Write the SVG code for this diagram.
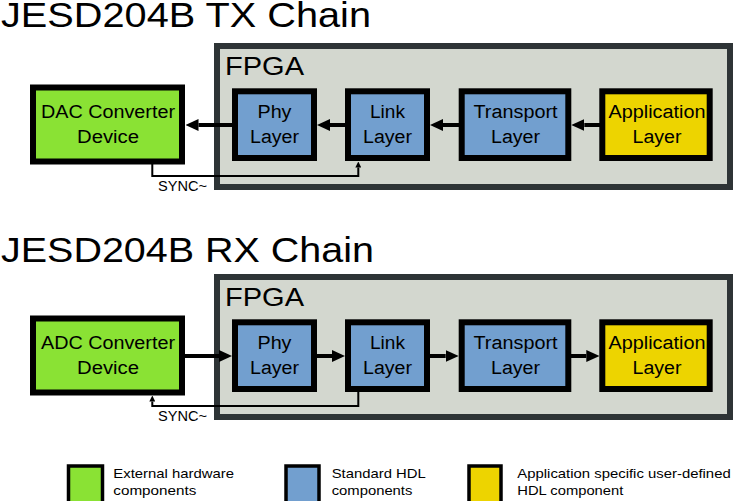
<svg xmlns="http://www.w3.org/2000/svg" width="733" height="501" viewBox="0 0 733 501">
<defs>
<style>
text{font-family:"Liberation Sans",Arial,sans-serif;fill:#000}
.title{font-size:35px}
.fpgal{font-size:26.5px}
.lbl{font-size:18px;text-anchor:middle}
.sync{font-size:14px}
.leg{font-size:13.5px}
.fpga{fill:#d3d7cf;stroke:#2e3436;stroke-width:6}
.box{stroke:#000;stroke-width:6}
.g{fill:#8ae234}.b{fill:#729fcf}.y{fill:#edd400}
.lbox{stroke:#000;stroke-width:3.5}
.thick{stroke:#000;stroke-width:4;fill:none;marker-end:url(#ah)}
.thin{stroke:#000;stroke-width:2;fill:none;marker-end:url(#sh)}
</style>
<marker id="ah" markerUnits="userSpaceOnUse" markerWidth="13" markerHeight="12" viewBox="0 0 13 12" refX="0" refY="6" orient="auto">
<path d="M0,0 L13,6 L0,12 Z" fill="#000"/>
</marker>
<marker id="sh" markerUnits="userSpaceOnUse" markerWidth="6" markerHeight="6" viewBox="0 0 6 6" refX="0" refY="3" orient="auto">
<path d="M0,0 L6,3 L0,6 Z" fill="#000"/>
</marker>
</defs>

<text class="title" x="1" y="27" textLength="370" lengthAdjust="spacingAndGlyphs">JESD204B TX Chain</text>
<text class="title" x="1" y="262" textLength="373" lengthAdjust="spacingAndGlyphs">JESD204B RX Chain</text>

<g id="tx-fpga">
<rect class="fpga" x="217" y="46" width="513" height="141"/>
<text class="fpgal" x="225" y="75" textLength="79" lengthAdjust="spacingAndGlyphs">FPGA</text>
</g>
<g id="rx-fpga">
<rect class="fpga" x="217" y="277" width="513" height="140"/>
<text class="fpgal" x="225" y="306" textLength="79" lengthAdjust="spacingAndGlyphs">FPGA</text>
</g>

<g id="connectors">
<line class="thick" x1="232" y1="125" x2="198.5" y2="125"/>
<line class="thick" x1="345" y1="125" x2="330" y2="125"/>
<line class="thick" x1="459" y1="125" x2="443" y2="125"/>
<line class="thick" x1="600" y1="125" x2="584.3" y2="125"/>
<polyline class="thin" points="152.3,163 152.3,176 358.3,176 358.3,167.5"/>
<text class="sync" x="158" y="191" textLength="49" lengthAdjust="spacingAndGlyphs">SYNC~</text>

<line class="thick" x1="185" y1="356" x2="219" y2="356"/>
<line class="thick" x1="317" y1="356" x2="332" y2="356"/>
<line class="thick" x1="430" y1="356" x2="445.7" y2="356"/>
<line class="thick" x1="571" y1="356" x2="586.3" y2="356"/>
<polyline class="thin" points="358.3,392 358.3,406 152.3,406 152.3,401.5"/>
<text class="sync" x="158" y="421" textLength="49" lengthAdjust="spacingAndGlyphs">SYNC~</text>
</g>

<g id="tx-dac">
<rect class="box g" x="33" y="87.5" width="149" height="74"/>
<text class="lbl" x="108" y="118" textLength="134" lengthAdjust="spacingAndGlyphs">DAC Converter</text>
<text class="lbl" x="108" y="143" textLength="62" lengthAdjust="spacingAndGlyphs">Device</text>
</g>
<g id="tx-phy">
<rect class="box b" x="235" y="91.3" width="79" height="66.7"/>
<text class="lbl" x="274.5" y="118" textLength="34" lengthAdjust="spacingAndGlyphs">Phy</text>
<text class="lbl" x="274.5" y="143" textLength="49" lengthAdjust="spacingAndGlyphs">Layer</text>
</g>
<g id="tx-link">
<rect class="box b" x="348" y="91.3" width="79" height="66.7"/>
<text class="lbl" x="387.5" y="118" textLength="35" lengthAdjust="spacingAndGlyphs">Link</text>
<text class="lbl" x="387.5" y="143" textLength="49" lengthAdjust="spacingAndGlyphs">Layer</text>
</g>
<g id="tx-transport">
<rect class="box b" x="461.7" y="91.3" width="106.6" height="66.7"/>
<text class="lbl" x="515.5" y="118" textLength="84" lengthAdjust="spacingAndGlyphs">Transport</text>
<text class="lbl" x="515.5" y="143" textLength="49" lengthAdjust="spacingAndGlyphs">Layer</text>
</g>
<g id="tx-app">
<rect class="box y" x="602.3" y="91.3" width="107.4" height="66.7"/>
<text class="lbl" x="657" y="118" textLength="97" lengthAdjust="spacingAndGlyphs">Application</text>
<text class="lbl" x="657" y="143" textLength="49" lengthAdjust="spacingAndGlyphs">Layer</text>
</g>

<g id="rx-adc">
<rect class="box g" x="33" y="318.5" width="149" height="74"/>
<text class="lbl" x="108" y="349" textLength="134" lengthAdjust="spacingAndGlyphs">ADC Converter</text>
<text class="lbl" x="108" y="374" textLength="62" lengthAdjust="spacingAndGlyphs">Device</text>
</g>
<g id="rx-phy">
<rect class="box b" x="235" y="322.3" width="79" height="66.7"/>
<text class="lbl" x="274.5" y="349" textLength="34" lengthAdjust="spacingAndGlyphs">Phy</text>
<text class="lbl" x="274.5" y="374" textLength="49" lengthAdjust="spacingAndGlyphs">Layer</text>
</g>
<g id="rx-link">
<rect class="box b" x="348" y="322.3" width="79" height="66.7"/>
<text class="lbl" x="387.5" y="349" textLength="35" lengthAdjust="spacingAndGlyphs">Link</text>
<text class="lbl" x="387.5" y="374" textLength="49" lengthAdjust="spacingAndGlyphs">Layer</text>
</g>
<g id="rx-transport">
<rect class="box b" x="461.7" y="322.3" width="106.6" height="66.7"/>
<text class="lbl" x="515.5" y="349" textLength="84" lengthAdjust="spacingAndGlyphs">Transport</text>
<text class="lbl" x="515.5" y="374" textLength="49" lengthAdjust="spacingAndGlyphs">Layer</text>
</g>
<g id="rx-app">
<rect class="box y" x="602.3" y="322.3" width="107.4" height="66.7"/>
<text class="lbl" x="657" y="349" textLength="97" lengthAdjust="spacingAndGlyphs">Application</text>
<text class="lbl" x="657" y="374" textLength="49" lengthAdjust="spacingAndGlyphs">Layer</text>
</g>

<g id="legend-external">
<rect class="lbox g" x="68.5" y="466" width="34" height="38"/>
<text class="leg" x="113.3" y="478" textLength="120.7" lengthAdjust="spacingAndGlyphs">External hardware</text>
<text class="leg" x="113.3" y="495" textLength="83" lengthAdjust="spacingAndGlyphs">components</text>
</g>
<g id="legend-standard">
<rect class="lbox b" x="286" y="466" width="33" height="38"/>
<text class="leg" x="331.7" y="478" textLength="94" lengthAdjust="spacingAndGlyphs">Standard HDL</text>
<text class="leg" x="331.7" y="495" textLength="80.7" lengthAdjust="spacingAndGlyphs">components</text>
</g>
<g id="legend-app">
<rect class="lbox y" x="469" y="466" width="32" height="38"/>
<text class="leg" x="517.3" y="478" textLength="213.4" lengthAdjust="spacingAndGlyphs">Application specific user-defined</text>
<text class="leg" x="517.3" y="495" textLength="106" lengthAdjust="spacingAndGlyphs">HDL component</text>
</g>
</svg>
